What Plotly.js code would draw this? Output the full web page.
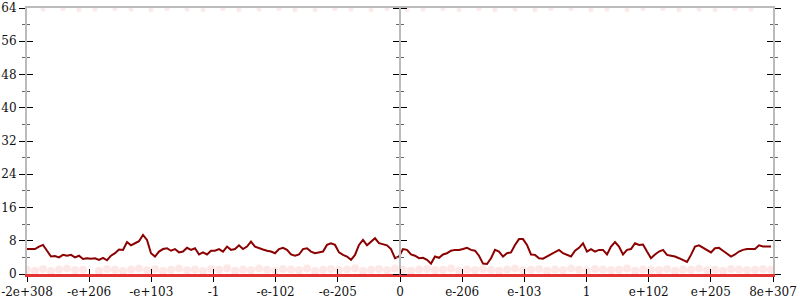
<!DOCTYPE html>
<html>
<head>
<meta charset="utf-8">
<script src="https://cdn.plot.ly/plotly-3.0.1.min.js"></script>
<style>html,body{margin:0;padding:0;background:#fff;}#chart{width:800px;height:300px;}</style>
</head>
<body>
<div id="chart"></div>
<script>
// Tick labels along the (bit-ordered) float axis
const tickLabels = ["-2e+308","-e+206","-e+103","-1","-e-102","-e-205","0","e-206","e-103","1","e+102","e+205","8e+307"];
const yTicks = [0, 8, 16, 24, 32, 40, 48, 56, 64];

// Smoothed count per bin (dark red line), bins ordered left to right
const lineValues = [
  6.0,6.0,6.0,6.6,7.0,5.6,4.2,4.3,4.0,4.6,4.4,4.6,4.0,4.4,3.6,3.8,3.7,3.8,3.4,3.9,3.3,4.4,5.0,5.9,5.8,7.7,6.9,7.4,7.9,9.4,8.2,5.0,4.2,5.4,6.0,6.2,5.6,6.0,5.2,5.4,6.3,5.8,6.2,4.7,5.2,4.7,5.6,
  5.6,6.0,5.4,6.6,5.8,6.0,6.9,6.0,6.6,7.8,6.6,6.2,5.9,5.6,5.4,5.0,6.0,6.3,5.8,4.7,4.4,4.7,6.0,6.2,5.4,5.0,5.2,5.4,7.0,7.4,7.0,5.2,4.6,4.2,3.4,4.6,7.0,8.2,6.9,7.8,8.6,7.4,7.1,6.9,6.0,3.8,4.2,
  6.0,5.8,4.7,4.4,3.8,3.9,3.4,2.5,4.2,3.9,4.7,5.0,5.6,5.8,5.8,6.0,6.3,5.8,5.6,4.4,2.5,2.4,3.8,5.8,5.4,4.2,5.0,5.2,7.0,8.4,8.4,7.0,4.7,4.6,3.8,3.7,4.2,4.7,5.4,5.8,5.0,4.6,4.2,5.6,6.3,7.4,5.4,6.0,
  5.4,5.8,5.8,4.7,6.6,7.7,6.6,4.7,5.8,6.0,7.4,7.0,7.1,5.4,3.8,4.7,5.4,5.8,4.6,4.4,4.2,3.8,3.4,2.9,4.6,6.6,6.9,6.3,5.8,5.2,6.2,6.3,5.6,5.0,4.2,4.7,5.4,5.8,6.0,6.0,6.0,6.9,6.6,6.6,6.6
];

// Faint raw samples near the bottom (low counts)
const lowBandX = [0,2,4,6,8,10,12,14,18,20,22,24,26,28,30,32,34,36,38,40,42,44,46,48,50,52,54,56,58,60,62,64,66,68,70,72,74,76,78,80,82,84,86,88,90,92,94,96,98,100,102,104,106,108,110,112,114,116,118,120,122,124,126,128,130,132,134,136,138,140,142,144,146,148,150,152,154,156,158,160,162,164,166,168,170,172,174,176,178,180,182,184,186];
const lowBandY = [1.0,0.8,1.2,0.7,1.1,1.3,0.9,1.0,0.8,1.2,1.0,0.7,1.1,1.3,0.9,1.2,0.8,1.0,1.3,0.9,1.1,0.7,1.2,1.0,1.4,0.8,1.1,0.9,1.3,1.0,0.8,1.2,1.1,0.9,1.3,0.7,1.0,1.2,0.9,1.1,1.4,0.8,1.0,1.2,0.9,1.3,1.0,0.8,1.1,1.2,0.9,1.0,1.3,0.8,1.1,0.9,1.2,1.0,0.8,1.1,1.3,0.9,1.0,1.2,0.8,1.1,0.9,1.3,1.0,0.8,1.2,1.1,0.9,1.0,1.3,0.8,1.1,1.0,0.9,1.2,0.8,1.1,1.0,1.3,0.9,1.0,0.8,1.2,1.1,0.9,1.0,1.2,1.0];

// Faint raw samples near the top
const highBandX = [4,9,13,17,22,26,31,35,40,44,49,53,58,63,67,72,77,81,86,90,95,99,104,108,113,117,122,127,131,136,141,145,150,154,159,163,168,172,177,181];
const highBandY = [63.7,63.8,63.6,63.7,63.9,63.7,63.6,63.8,63.7,63.6,63.9,63.6,63.7,63.8,63.6,63.6,63.9,63.7,63.6,63.8,63.6,63.7,63.9,63.6,63.8,63.6,63.7,63.6,63.9,63.8,63.6,63.7,63.6,63.8,63.9,63.6,63.7,63.6,63.8,63.7];

const nBins = lineValues.length;
const xMax = nBins - 0.5;
const binIdx = lineValues.map((_, i) => i);
const tickPos = tickLabels.map((_, k) => k * xMax / (tickLabels.length - 1));

const tickFont = {family: "DejaVu Serif", size: 12, color: "#111"};

// invisible carrier traces so the overlay axes get drawn
function carrier(xa, ya) {
  return {x: binIdx, y: lineValues, xaxis: xa, yaxis: ya, type: "scatter", mode: "lines",
          line: {width: 0, color: "rgba(0,0,0,0)"}, opacity: 0, hoverinfo: "skip", showlegend: false};
}

const traces = [
  carrier("x2", "y2"), carrier("x3", "y3"), carrier("x", "y4"),
  {x: lowBandX, y: lowBandY, type: "scatter", mode: "markers",
   marker: {size: 8, color: "rgba(240,80,80,0.13)", line: {width: 0}}, hoverinfo: "skip", showlegend: false},
  {x: highBandX, y: highBandY, type: "scatter", mode: "markers",
   marker: {size: 5, color: "rgba(240,80,80,0.12)", line: {width: 0}}, hoverinfo: "skip", showlegend: false},
  {x: binIdx, y: lineValues, type: "scatter", mode: "lines",
   line: {color: "#8b0000", width: 2}, hoverinfo: "skip", showlegend: false}
];

const yBase = {range: [0, 64], tickvals: yTicks, showgrid: false, zeroline: false, fixedrange: true};
const minorOut = {dtick: 4, ticks: "outside", ticklen: 3, tickcolor: "#666", tickwidth: 1, showgrid: false};
const minorIn = {dtick: 4, ticks: "inside", ticklen: 3, tickcolor: "#666", tickwidth: 1, showgrid: false};

const layout = {
  width: 800, height: 300,
  margin: {l: 27, r: 27, t: 8, b: 26, pad: 0},
  paper_bgcolor: "#fff", plot_bgcolor: "#fff",
  showlegend: false,
  xaxis: {range: [0, xMax], tickvals: tickPos, ticktext: tickLabels, ticks: "outside", ticklen: 5,
          tickcolor: "#000", tickwidth: 1, tickfont: tickFont, showline: true, linecolor: "#e53333",
          linewidth: 3, showgrid: false, zeroline: false, fixedrange: true},
  xaxis2: {range: [0, xMax], overlaying: "x", anchor: "y2", side: "bottom", tickvals: tickPos,
           ticks: "inside", ticklen: 5, tickcolor: "#000", showticklabels: false, showline: false,
           showgrid: false, zeroline: false},
  xaxis3: {range: [0, xMax], overlaying: "x", anchor: "y3", side: "top", showline: true,
           linecolor: "#bbb", linewidth: 2, ticks: "", showticklabels: false, showgrid: false, zeroline: false},
  yaxis: Object.assign({}, yBase, {ticks: "outside", ticklen: 6, tickcolor: "#000", tickwidth: 1,
          tickfont: tickFont, showline: true, linecolor: "#bbb", linewidth: 2, mirror: "ticks",
          minor: minorOut}),
  yaxis2: Object.assign({}, yBase, {overlaying: "y", anchor: "x2", side: "left", ticks: "inside", ticklen: 6,
          tickcolor: "#000", showticklabels: false, showline: false, mirror: "ticks", minor: minorIn}),
  yaxis3: Object.assign({}, yBase, {overlaying: "y", anchor: "free", position: 0.5, side: "left",
          ticks: "outside", ticklen: 6, tickcolor: "#000", showticklabels: false, showline: true,
          linecolor: "#bbb", linewidth: 2, minor: minorOut}),
  yaxis4: Object.assign({}, yBase, {overlaying: "y", anchor: "free", position: 0.5, side: "right",
          ticks: "outside", ticklen: 6, tickcolor: "#000", showticklabels: false, showline: false,
          minor: minorOut})
};

Plotly.newPlot("chart", traces, layout, {staticPlot: true, displayModeBar: false});
</script>
</body>
</html>
